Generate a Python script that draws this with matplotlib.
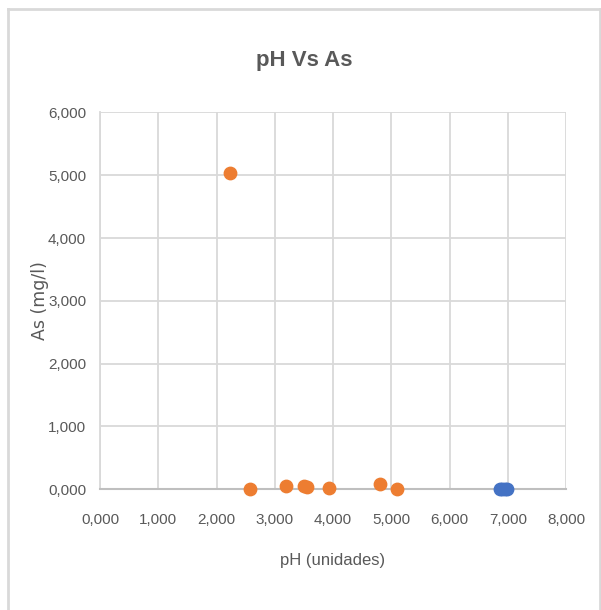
import matplotlib.pyplot as plt
from matplotlib.lines import Line2D
from matplotlib.ticker import FuncFormatter

# values
ph_orange = [2.23, 2.57, 3.19, 3.51, 3.55, 3.93, 4.81, 5.10]
as_orange = [5.04, 0.01, 0.06, 0.06, 0.04, 0.02, 0.09, 0.00]
ph_blue = [6.87, 6.90, 6.95, 6.98]
as_blue = [0.01, 0.00, 0.005, 0.00]

x_ticks = [0, 1, 2, 3, 4, 5, 6, 7, 8]
y_ticks = [0, 1, 2, 3, 4, 5, 6]

plt.rcParams['font.family'] = ['Liberation Sans', 'DejaVu Sans']
txt = '#595959'

fig = plt.figure(figsize=(6.01, 6.10), dpi=100)
ax = fig.add_axes([0.1664, 0.1979, 0.7754, 0.6177])

ax.scatter(ph_orange, as_orange, s=80, color='#ED7D31', zorder=3, clip_on=False)
ax.scatter(ph_blue, as_blue, s=80, color='#4472C4', zorder=3, clip_on=False)

ax.set_xlim(0, 8)
ax.set_ylim(0, 6)
ax.set_xticks(x_ticks)
ax.set_yticks(y_ticks)
fmt = FuncFormatter(lambda v, p: f"{v:.3f}".replace('.', ','))
ax.xaxis.set_major_formatter(fmt)
ax.yaxis.set_major_formatter(fmt)
ax.grid(True, color='#d9d9d9', linewidth=1.3, zorder=0)
ax.set_axisbelow(True)
ax.tick_params(length=0, labelsize=11, colors=txt)
ax.tick_params(axis='x', pad=17)
ax.tick_params(axis='y', pad=10)

for s in ['top', 'right']:
    ax.spines[s].set_visible(False)
ax.spines['left'].set_color('#d9d9d9')
ax.spines['left'].set_linewidth(1.3)
ax.spines['bottom'].set_color('#bfbfbf')
ax.spines['bottom'].set_linewidth(1.5)

ax.set_xlabel('pH (unidades)', fontsize=12, color=txt, va='center')
ax.xaxis.set_label_coords(0.5, -0.19)
ax.set_ylabel('As (mg/l)', fontsize=12.5, color=txt, family=['DejaVu Sans'], va='center')
ax.yaxis.set_label_coords(-0.128, 0.5)
fig.text(0.506, 0.9016, 'pH Vs As', ha='center', va='center', fontsize=16,
         fontweight='bold', color=txt)

# chart border
bc = '#d9d9d9'
fig.add_artist(Line2D([0.0125, 0.0125], [0, 0.985], color=bc, lw=2, transform=fig.transFigure))
fig.add_artist(Line2D([0.0125, 0.998], [0.985, 0.985], color=bc, lw=2, transform=fig.transFigure))
fig.add_artist(Line2D([0.998, 0.998], [0, 0.985], color=bc, lw=2, transform=fig.transFigure))

fig.savefig('out.png', dpi=100)
